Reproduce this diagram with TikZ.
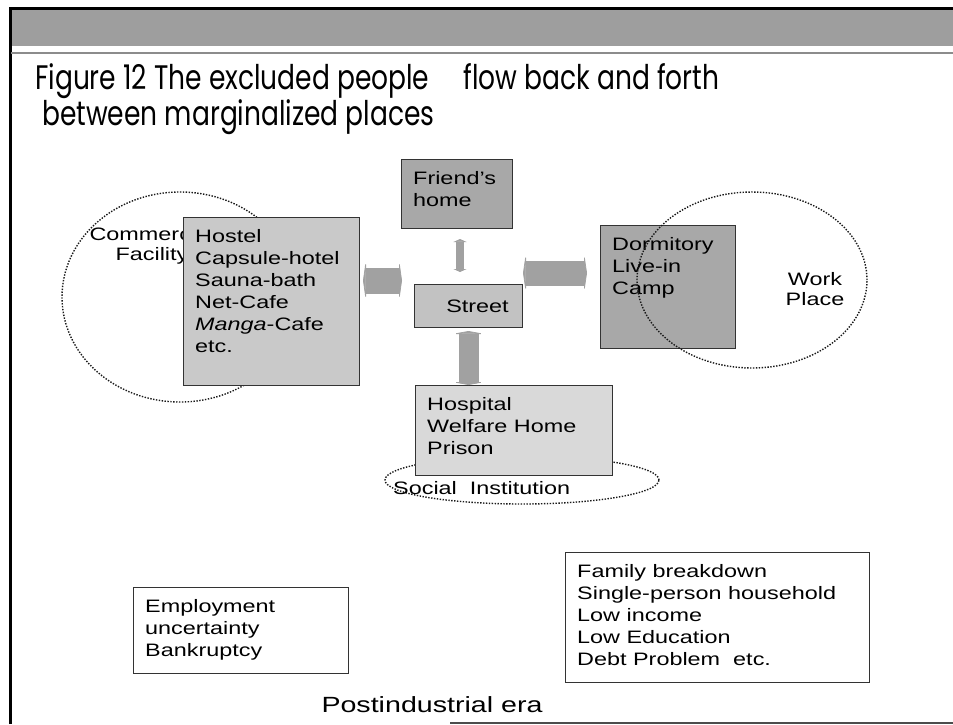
\documentclass[tikz,border=0pt]{standalone}
\usepackage{fontspec}
\setmainfont{Liberation Sans}[FakeStretch=1.3]
\newfontfamily\titlefont{Poppins}[FakeStretch=0.78]
\usetikzlibrary{positioning,shapes.geometric,arrows.meta}

\tikzset{
  place/.style={draw=black!80, line width=1pt, anchor=north west, inner sep=0pt},
  lightplace/.style={place, fill=black!21},
  darkplace/.style={place, fill=black!34},
  whiteplace/.style={place, fill=white},
  placetext/.style={anchor=north west, inner sep=12pt, align=left, font=\fontsize{18}{22}\selectfont},
  area/.style={ellipse, draw=black!90, line width=1.4pt, dash pattern=on 1.4pt off 1.5pt, inner sep=0pt},
  arealabel/.style={align=center, font=\fontsize{18}{20}\selectfont},
  flowarrow/.style={draw=black!37, line width=#1,
    {Triangle[length=3pt, width=0pt 1.65]}-{Triangle[length=3pt, width=0pt 1.65]}},
  titletext/.style={anchor=base west, inner sep=0pt, font=\titlefont\fontsize{34}{38}\selectfont},
}

\begin{document}
\begin{tikzpicture}[x=1pt, y=-1pt]

  \useasboundingbox (0,0) rectangle (953,724);

  % Slide frame
  \fill[black!38] (11,9.5) rectangle (953,46);
  \draw[line width=3pt] (10,724) -- (10,8) -- (953,8);
  \draw[black!45, line width=1.5pt] (11,53) -- (953,53);
  \draw[black!70, line width=2pt] (450,723) -- (953,723);

  % Title
  \node[titletext] (title1) at (35,89) {Figure 12 The excluded people\hspace{34pt}flow back and forth};
  \node[titletext] (title2) at (42,125) {between marginalized places};

  % Define places
  \node[area, minimum width=236pt, minimum height=210pt] (commercial) at (180,297) {};
  \node[arealabel] (commerciallabel) at (152,246) {Commercial\\Facility};
  \node[lightplace, minimum width=176pt, minimum height=168pt] (hostel) at (183,217) {};
  \node[placetext] (hosteltext) at (hostel.north west)
    {Hostel\\Capsule-hotel\\Sauna-bath\\Net-Cafe\\\textit{Manga}-Cafe\\etc.};

  \node[darkplace, minimum width=111pt, minimum height=69pt] (friend) at (401,159) {};
  \node[placetext] (friendtext) at (friend.north west) {Friend's\\home};

  \node[lightplace, fill=black!24, minimum width=108pt, minimum height=43pt] (street) at (414,284) {};
  \node[font=\fontsize{18}{22}\selectfont] (streettext) at ([xshift=9pt]street.center) {Street};

  \node[darkplace, minimum width=135pt, minimum height=123pt] (dorm) at (600,225) {};
  \node[placetext] (dormtext) at (dorm.north west) {Dormitory\\Live-in\\Camp};
  \node[area, minimum width=230pt, minimum height=176pt] (work) at (752,280) {};
  \node[arealabel] (worklabel) at (815,289) {Work\\Place};

  \node[area, minimum width=274pt, minimum height=48pt] (social) at (522,480) {};
  \node[lightplace, fill=black!15, minimum width=197pt, minimum height=90pt] (hospital) at (415,385) {};
  \node[placetext] (hospitaltext) at (hospital.north west) {Hospital\\Welfare Home\\Prison};
  \node[arealabel, anchor=west, inner sep=0pt] (sociallabel) at (393,488) {Social\ \ Institution};

  \node[whiteplace, minimum width=215pt, minimum height=86pt] (employment) at (133,587) {};
  \node[placetext] (employmenttext) at (employment.north west) {Employment\\uncertainty\\Bankruptcy};

  \node[whiteplace, minimum width=304pt, minimum height=130pt] (family) at (565,552) {};
  \node[placetext] (familytext) at (family.north west)
    {Family breakdown\\Single-person household\\Low income\\Low Education\\Debt Problem\ \ etc.};

  \node[font=\fontsize{22}{26}\selectfont] (era) at (432,705) {Postindustrial era};

  % Connect the places
  \draw[flowarrow=26pt, shorten <=3pt, shorten >=12pt]
    ([yshift=21pt]hostel.east) -- ([yshift=21pt]hostel.east -| street.west);
  \draw[flowarrow=25pt, shorten >=13pt]
    ([yshift=33pt]street.east) -- ([yshift=33pt]street.east -| dorm.west);
  \draw[flowarrow=8pt, shorten <=10pt, shorten >=12pt]
    ([xshift=3pt]friend.south) -- ([xshift=3pt]friend.south |- street.north);
  \draw[flowarrow=20pt, shorten <=3pt]
    (street.south) -- (street.south |- hospital.north);

\end{tikzpicture}
\end{document}
